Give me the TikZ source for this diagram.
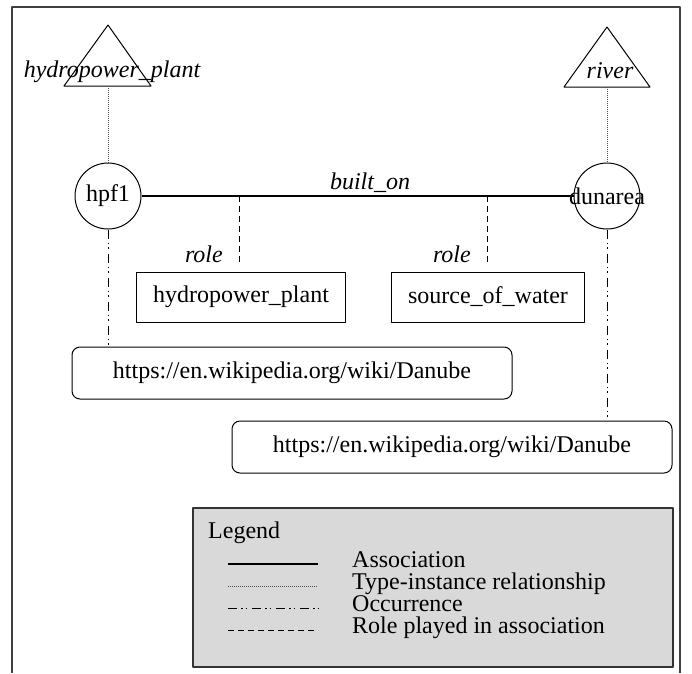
\documentclass[tikz,border=0pt]{standalone}
\usepackage{fontspec}
\setmainfont{Liberation Serif}
\usetikzlibrary{shapes,fit}
\definecolor{legendgray}{RGB}{217,217,217}

\begin{document}
\begin{tikzpicture}[x=1pt, y=-1pt, line join=round]

    % Styles
    \tikzset{
        topic/.style={draw, circle, line width=1pt, minimum size=66pt, inner sep=0pt, font=\fontsize{24}{24}\selectfont},
        rolebox/.style={draw, rectangle, line width=1pt, minimum height=50pt, inner xsep=17pt, font=\fontsize{24}{24}\selectfont},
        occbox/.style={draw, rectangle, rounded corners=8pt, line width=1pt, minimum width=440pt, minimum height=52pt, font=\fontsize{24}{24}\selectfont},
        lbl/.style={font=\fontsize{24}{24}\selectfont, inner sep=0pt},
        ilbl/.style={font=\fontsize{24}{24}\selectfont\itshape, inner sep=0pt},
        assoc/.style={line width=1.2pt},
        typeinst/.style={line width=0.8pt, black!70, dash pattern=on 1pt off 1pt},
        occur/.style={line width=1pt, dash pattern=on 9pt off 4pt on 1.5pt off 3pt on 1.5pt off 5pt},
        roleline/.style={line width=1pt, dash pattern=on 6pt off 4pt}
    }

    \useasboundingbox (0,0) rectangle (692,673);

    % Cornice (aperta in basso)
    \draw[line width=1.3pt, black!75] (12,673) -- (12,7) -- (680,7) -- (680,673);

    % Tipi (triangoli)
    \draw[line width=1pt] (108,25) -- (151,86) -- (64,86) -- cycle;
    \coordinate (tplant) at (108,86);
    \node[ilbl, anchor=base] (tplantlbl) at (112,77) {hydropower\_plant};

    \draw[line width=1pt] (607,27) -- (650,87) -- (564,87) -- cycle;
    \coordinate (triver) at (607,87);
    \node[ilbl, anchor=base] (triverlbl) at (610,78) {river};

    % Istanze (cerchi)
    \node[topic] (hpf) at (108,196) {hpf1};
    \node[topic] (dun) at (607,196) {\makebox[0pt]{dunarea}};

    \draw[typeinst] (tplant) -- (hpf.north);
    \draw[typeinst] (triver) -- (dun.north);

    % Associazione
    \draw[assoc] (hpf) -- (dun);
    \node[ilbl, anchor=base] (builton) at (370,189) {built\_on};

    % Ruoli
    \node[rolebox] (hbox) at (241,297) {hydropower\_plant};
    \node[rolebox] (sbox) at (488,297) {source\_of\_water};

    \coordinate (ra) at (239,196);
    \coordinate (rb) at (487,196);
    \draw[roleline, shorten >=7pt] (ra) -- (ra |- hbox.north);
    \draw[roleline, shorten >=7pt] (rb) -- (rb |- sbox.north);
    \node[ilbl, anchor=base east] (rolea) at (223,262) {role};
    \node[ilbl, anchor=base east] (roleb) at (471,262) {role};

    % Occorrenze
    \node[occbox] (occa) at (292,373) {https://en.wikipedia.org/wiki/Danube};
    \node[occbox] (occb) at (452,447) {https://en.wikipedia.org/wiki/Danube};

    \draw[occur] (hpf.south) -- (hpf.south |- occa.north);
    \draw[occur] (dun.south) -- (dun.south |- occb.north);

    % Legenda
    \node[draw, line width=1.5pt, black!80, fill=legendgray, minimum width=480pt, minimum height=159pt] (legend) at (433,587.5) {};
    \node[lbl, anchor=base west] (legtitle) at (208,538) {Legend};
    \foreach \yy/\sty/\txt [count=\i] in {564/assoc/Association, 586/typeinst/Type-instance relationship, 608/occur/Occurrence, 630/roleline/Role played in association} {
        \draw[\sty] (228,\yy) -- (318,\yy);
        \node[lbl, anchor=base west] (legtxt\i) at (352,\yy+3) {\txt};
    }

\end{tikzpicture}
\end{document}
